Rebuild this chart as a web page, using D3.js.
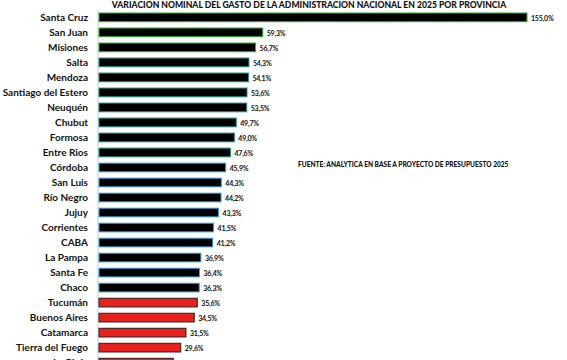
<!DOCTYPE html>
<html><head><meta charset="utf-8">
<script src="https://cdn.jsdelivr.net/npm/d3@7/dist/d3.min.js"></script>
<style>body{margin:0;background:#fff}svg{display:block}</style>
</head><body><svg id="c" width="567" height="360"></svg>
<script>
const provinces = ["Santa Cruz","San Juan","Misiones","Salta","Mendoza","Santiago del Estero","Neuquén","Chubut","Formosa","Entre Rios","Córdoba","San Luis","Río Negro","Jujuy","Corrientes","CABA","La Pampa","Santa Fe","Chaco","Tucumán","Buenos Aires","Catamarca","Tierra del Fuego","La Rioja"];
const values = [155.0,59.3,56.7,54.3,54.1,53.6,53.5,49.7,49.0,47.6,45.9,44.3,44.2,43.3,41.5,41.2,36.9,36.4,36.3,35.6,34.5,31.5,29.6,26.9];
const groups = ["g","g","g","t","t","t","t","t","t","t","b","b","b","b","b","b","b","b","b","r","r","r","r","r"];
const title = "VARIACION NOMINAL DEL GASTO DE LA ADMINISTRACION NACIONAL EN 2025 POR PROVINCIA";
const source = "FUENTE: ANALYTICA EN BASE A PROYECTO DE PRESUPUESTO 2025";

const edge = {g:"#2db52d", t:"#1f8f86", b:"#3aa6e0", r:"#222"};
const fill = {g:"#000", t:"#000", b:"#000", r:"#e8201e"};

const svg = d3.select("#c");
const x = d3.scaleLinear().domain([0,155]).range([99,527]);
const y = d3.scaleBand().domain(provinces).range([10,370]).paddingInner(0.42).paddingOuter(0.2);

svg.append("text").attr("x",309).attr("y",8).attr("text-anchor","middle")
  .attr("font-family","Lato, sans-serif").attr("font-weight",900).attr("font-size",8.6)
  .attr("fill","#111").text(title);

svg.append("line").attr("x1",98).attr("x2",98).attr("y1",10).attr("y2",360)
  .attr("stroke","#c8c8c8").attr("stroke-width",1);

const rows = svg.append("g").selectAll("g").data(provinces).join("g");
rows.append("rect").attr("x",x(0)).attr("y",d=>y(d))
  .attr("width",(d,i)=>x(values[i])-x(0)).attr("height",y.bandwidth())
  .attr("fill",(d,i)=>fill[groups[i]]).attr("stroke",(d,i)=>edge[groups[i]]).attr("stroke-width",1);
rows.append("text").attr("x",88).attr("y",d=>y(d)+y.bandwidth()/2).attr("dy","0.36em")
  .attr("text-anchor","end").attr("font-family","Lato, sans-serif").attr("font-weight",700)
  .attr("font-size",10).attr("fill","#111").text(d=>d);
rows.append("text").attr("x",(d,i)=>x(values[i])+4).attr("y",d=>y(d)+y.bandwidth()/2+1).attr("dy","0.36em")
  .attr("font-family","Lato, sans-serif").attr("font-weight",700).attr("font-size",7)
  .attr("letter-spacing","-0.2").attr("fill","#111").text((d,i)=>values[i].toFixed(1).replace(".",",")+"%");

svg.append("text").attr("x",298).attr("y",167).attr("font-family","Lato, sans-serif")
  .attr("font-weight",900).attr("font-size",6.6).attr("fill","#111").text(source);
</script></body></html>
